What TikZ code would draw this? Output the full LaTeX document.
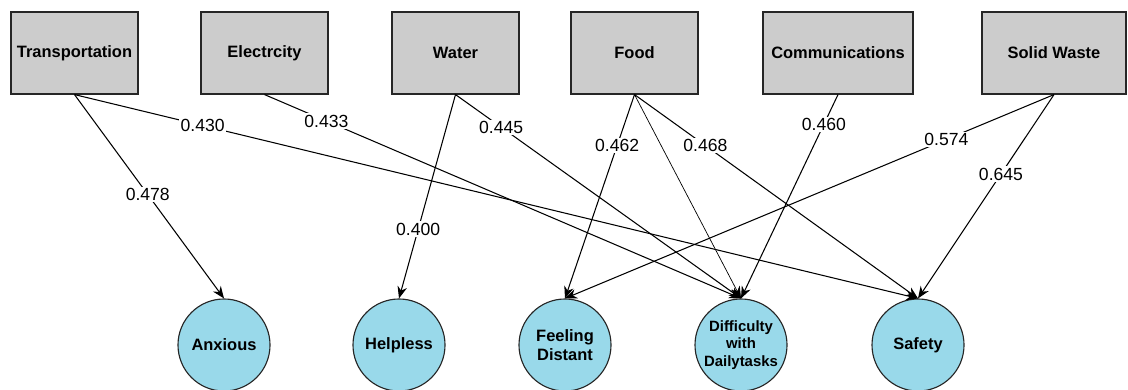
\documentclass[tikz,border=0pt]{standalone}
\usepackage{fontspec}
\setmainfont{Liberation Sans}
\usetikzlibrary{arrows.meta, shapes, positioning}
\definecolor{cajagris}{RGB}{204,204,204}
\definecolor{celeste}{RGB}{153,217,234}

\begin{document}
\begin{tikzpicture}[x=0.025cm,y=-0.025cm,->,>={Stealth[length=3mm,width=2.4mm]},line width=0.75pt,
	var node/.style={rectangle,draw=black!85,fill=cajagris,line width=0.8pt,minimum width=31.75mm,minimum height=20.5mm,font=\fontsize{11.7}{14}\selectfont\bfseries},
	main node/.style={circle,draw=black!85,fill=celeste,line width=0.8pt,minimum size=23mm,inner sep=0pt,align=center,font=\fontsize{11.7}{13.7}\selectfont\bfseries},
	peso/.style={fill=white,inner sep=1pt,font=\fontsize{12.5}{14}\selectfont}]
	\useasboundingbox (0,0) rectangle (1128,389);
	
	% Nodos de servicios
	\node[var node] (trans) at (74.5,53) {Transportation};
	\node[var node] (elec) at (264.5,53) {Electrcity};
	\node[var node] (agua) at (455.5,53) {Water};
	\node[var node] (comida) at (634.5,53) {Food};
	\node[var node, minimum width=37.5mm] (comu) at (838,53) {Communications};
	\node[var node, minimum width=36mm] (resid) at (1054,53) {Solid Waste};
	
	% Nodos de emociones
	\node[main node] (ans) at (224,345) {Anxious};
	\node[main node] (desv) at (399,345) {Helpless};
	\node[main node] (dist) at (565,345) {Feeling\\Distant};
	\node[main node, font=\fontsize{10.6}{12.4}\selectfont\bfseries] (dif) at (741,345) {Difficulty\\with\\Dailytasks};
	\node[main node] (seg) at (918,345) {Safety};
	
	% Conexiones con pesos
	\path
	(trans.south) edge node[peso, pos=0.49] {0.478} (ans.north)
	(trans.south) edge node[peso, pos=0.152] {0.430} (seg.north)
	(elec.south) edge node[peso, pos=0.13] {0.433} (dif.north)
	(agua.south) edge node[peso, pos=0.66] {0.400} (desv.north)
	(agua.south) edge node[peso, pos=0.16] {0.445} (dif.north)
	(comida.south) edge node[peso, pos=0.25] {0.462} (dist.north)
	(comida.south) edge node[peso, pos=0.25] {0.468} (seg.north)
	(comu.south) edge node[peso, pos=0.146] {0.460} (dif.north)
	(resid.south) edge node[peso, pos=0.22] {0.574} (dist.north)
	(resid.south) edge node[peso, pos=0.39] {0.645} (seg.north);
	% Conexión sin peso
	\path[line width=0.5pt]
	(comida.south) edge (dif.north);
\end{tikzpicture}
\end{document}
